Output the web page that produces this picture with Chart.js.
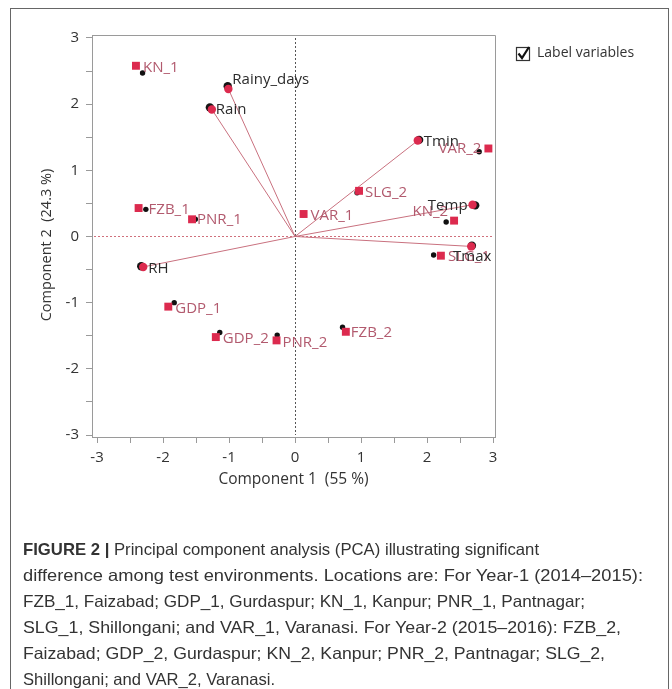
<!DOCTYPE html>
<html>
<head>
<meta charset="utf-8">
<title>PCA biplot of test environments</title>
<script src="https://cdn.jsdelivr.net/npm/chart.js@4.4.1/dist/chart.umd.min.js"></script>
<style>
  html, body { margin: 0; padding: 0; background: #fff; width: 672px; height: 689px; overflow: hidden; }
  #wrap { position: relative; width: 672px; height: 689px; }
  #chart { position: absolute; left: 0; top: 0; }
  #frame { position: absolute; left: 10px; top: 8px; width: 659px; height: 720px;
           border: 1px solid #666; box-sizing: border-box; pointer-events: none; }
  #caption { position: absolute; left: 23px; top: 536px; font-family: "Liberation Sans", Arial, sans-serif;
             font-size: 16.5px; line-height: 26.1px; color: #333; white-space: nowrap; }
  #caption .ln { display: block; }
  #caption .ln span { display: inline-block; transform-origin: 0 50%; }
  #caption b { font-weight: bold; }
</style>
</head>
<body>
<div id="wrap">
  <canvas id="chart" width="672" height="525"></canvas>
  <div id="frame"></div>
  <div id="caption">
    <div class="ln"><span><b>FIGURE 2 |</b> Principal component analysis (PCA) illustrating significant</span></div>
    <div class="ln"><span>difference among test environments. Locations are: For Year-1 (2014–2015):</span></div>
    <div class="ln"><span>FZB_1, Faizabad; GDP_1, Gurdaspur; KN_1, Kanpur; PNR_1, Pantnagar;</span></div>
    <div class="ln"><span>SLG_1, Shillongani; and VAR_1, Varanasi. For Year-2 (2015–2016): FZB_2,</span></div>
    <div class="ln"><span>Faizabad; GDP_2, Gurdaspur; KN_2, Kanpur; PNR_2, Pantnagar; SLG_2,</span></div>
    <div class="ln"><span>Shillongani; and VAR_2, Varanasi.</span></div>
  </div>
</div>
<script>
// Environment (location) scores
const locations = ['KN_1', 'FZB_1', 'PNR_1', 'VAR_1', 'GDP_1', 'GDP_2', 'PNR_2', 'FZB_2', 'SLG_2', 'VAR_2', 'KN_2', 'SLG_1'];
const locPC1 = [-2.41, -2.37, -1.56, 0.13, -1.92, -1.20, -0.28, 0.77, 0.97, 2.93, 2.41, 2.21];
const locPC2 = [2.58, 0.43, 0.26, 0.34, -1.06, -1.52, -1.57, -1.44, 0.69, 1.33, 0.24, -0.29];
// Second (overlaid) set of environment scores
const locPC1b = [-2.31, -2.26, -1.51, 0.12, -1.83, -1.14, -0.27, 0.72, 0.94, 2.79, 2.29, 2.10];
const locPC2b = [2.47, 0.41, 0.26, 0.33, -1.00, -1.45, -1.49, -1.37, 0.66, 1.28, 0.22, -0.28];

// Weather variable loadings
const variables = ['Rainy_days', 'Rain', 'Tmin', 'Temp', 'Tmax', 'RH'];
const varPC1 = [-1.01, -1.26, 1.86, 2.69, 2.67, -2.30];
const varPC2 = [2.23, 1.92, 1.45, 0.48, -0.15, -0.46];
const varPC1b = [-1.02, -1.29, 1.88, 2.73, 2.68, -2.33];
const varPC2b = [2.27, 1.95, 1.46, 0.47, -0.14, -0.45];

// Axis ticks (labelled at whole numbers)
const axisTicks = [-3, -2.5, -2, -1.5, -1, -0.5, 0, 0.5, 1, 1.5, 2, 2.5, 3];
const xTitle = 'Component 1  (55 %)';
const yTitle = 'Component 2  (24.3 %)';
const legendText = 'Label variables';

// Label placement relative to each marker (pixels)
const labelPlacement = {
  KN_1: { dx: 7, dy: 2 }, FZB_1: { dx: 10, dy: 2 }, PNR_1: { dx: 5, dy: 0 }, VAR_1: { dx: 7, dy: 2 },
  GDP_1: { dx: 7, dy: 2 }, GDP_2: { dx: 7, dy: 2 }, PNR_2: { dx: 6, dy: 2 }, FZB_2: { dx: 5, dy: 1 },
  SLG_2: { dx: 6, dy: 2 }, VAR_2: { dx: -7, dy: 0, align: 'right' }, KN_2: { dx: -6, dy: -9, align: 'right' },
  SLG_1: { dx: 7, dy: 1 },
  Rainy_days: { dx: 4, dy: -9 }, Rain: { dx: 4, dy: 0 }, Tmin: { dx: 6, dy: 1 },
  Temp: { dx: -5, dy: 1, align: 'right' }, Tmax: { dx: 1, dy: 10, align: 'center' }, RH: { dx: 5, dy: 2 }
};

const RED = '#dc2a4e';
const LOC_TEXT = '#b25a6e';
const VAR_TEXT = '#2b2b2b';
const RAY = '#c9717f';
const AXIS = '#9a9a9a';
const FONT = '"Open Sans", "Noto Sans", sans-serif';

const pts = (xs, ys) => xs.map((x, i) => ({ x: x, y: ys[i] }));

const rayDatasets = variables.map((name, i) => ({
  type: 'line',
  label: name + ' vector',
  data: [{ x: 0, y: 0 }, { x: varPC1[i], y: varPC2[i] }],
  borderColor: RAY,
  borderWidth: 1,
  pointRadius: 0,
  fill: false,
  order: 6
}));

// Dotted reference lines through the origin, plus the frame of the plot area
const frameAndZeroLines = {
  id: 'frameAndZeroLines',
  beforeDatasetsDraw(chart) {
    const { ctx, chartArea: a, scales: { x, y } } = chart;
    ctx.save();
    ctx.lineWidth = 1;
    ctx.strokeStyle = AXIS;
    ctx.beginPath();
    ctx.moveTo(a.left, a.top + 0.5);
    ctx.lineTo(a.right + 0.5, a.top + 0.5);
    ctx.lineTo(a.right + 0.5, a.bottom);
    ctx.stroke();
    ctx.setLineDash([2, 2]);
    const x0 = Math.round(x.getPixelForValue(0)) + 0.5;
    ctx.strokeStyle = '#555';
    ctx.beginPath();
    ctx.moveTo(x0, a.top + 3);
    ctx.lineTo(x0, a.bottom - 2);
    ctx.stroke();
    const y0 = Math.round(y.getPixelForValue(0)) + 0.5;
    ctx.strokeStyle = '#d0707c';
    ctx.beginPath();
    ctx.moveTo(a.left + 2, y0);
    ctx.lineTo(a.right - 2, y0);
    ctx.stroke();
    ctx.restore();
  }
};

// Point labels for environments and variables
const pointLabels = {
  id: 'pointLabels',
  afterDatasetsDraw(chart) {
    const { ctx, scales: { x, y } } = chart;
    ctx.save();
    ctx.font = '15px ' + FONT;
    ctx.textBaseline = 'middle';
    const put = (name, vx, vy, color) => {
      const p = labelPlacement[name] || { dx: 7, dy: 2 };
      ctx.fillStyle = color;
      ctx.textAlign = p.align || 'left';
      ctx.fillText(name, x.getPixelForValue(vx) + p.dx, y.getPixelForValue(vy) + p.dy);
    };
    locations.forEach((n, i) => put(n, locPC1[i], locPC2[i], LOC_TEXT));
    variables.forEach((n, i) => put(n, varPC1[i], varPC2[i], VAR_TEXT));
    ctx.restore();
  }
};

// Vertical axis title, and the "Label variables" check box at the top right
const extras = {
  id: 'extras',
  afterDraw(chart) {
    const { ctx, chartArea: a } = chart;
    ctx.save();
    ctx.translate(47, (a.top + a.bottom) / 2 + 9);
    ctx.rotate(-Math.PI / 2);
    ctx.fillStyle = '#333';
    ctx.font = '14.5px ' + FONT;
    ctx.textAlign = 'center';
    ctx.textBaseline = 'middle';
    ctx.fillText(yTitle, 0, 0);
    ctx.restore();

    ctx.save();
    ctx.strokeStyle = '#333';
    ctx.lineWidth = 1.2;
    ctx.strokeRect(516.5, 47.5, 13, 13);
    ctx.lineWidth = 2.2;
    ctx.strokeStyle = '#111';
    ctx.beginPath();
    ctx.moveTo(518.5, 53.5);
    ctx.lineTo(522, 58);
    ctx.lineTo(529, 47);
    ctx.stroke();
    ctx.fillStyle = '#333';
    ctx.font = '14px ' + FONT;
    ctx.textBaseline = 'middle';
    ctx.textAlign = 'left';
    ctx.fillText(legendText, 537, 53);
    ctx.restore();
  }
};

new Chart(document.getElementById('chart'), {
  type: 'scatter',
  data: {
    datasets: [
      { label: 'Environments', data: pts(locPC1, locPC2), pointStyle: 'rect', pointRadius: 5.6,
        backgroundColor: RED, borderColor: RED, borderWidth: 0, order: 1 },
      { label: 'Environments (set 2)', data: pts(locPC1b, locPC2b), pointStyle: 'circle', pointRadius: 2.7,
        backgroundColor: '#111', borderColor: '#111', borderWidth: 0, order: 2 },
      { label: 'Variables', data: pts(varPC1, varPC2), pointStyle: 'circle', pointRadius: 4.2,
        backgroundColor: RED, borderColor: RED, borderWidth: 0, order: 3 },
      { label: 'Variables (set 2)', data: pts(varPC1b, varPC2b), pointStyle: 'circle', pointRadius: 4.2,
        backgroundColor: '#151515', borderColor: '#151515', borderWidth: 0, order: 4 },
      ...rayDatasets
    ]
  },
  options: {
    responsive: false,
    animation: false,
    events: [],
    layout: { padding: { left: 0, top: 35, right: 177, bottom: 0 } },
    plugins: { legend: { display: false }, tooltip: { enabled: false } },
    scales: {
      x: {
        type: 'linear', min: -3.076, max: 3.03,
        afterBuildTicks: s => { s.ticks = axisTicks.map(v => ({ value: v })); },
        afterFit: s => { s.height = 88; },
        ticks: { autoSkip: false, maxRotation: 0, padding: 6, color: '#333',
                 font: { family: FONT, size: 15 },
                 callback: v => Number.isInteger(v) ? String(v) : '' },
        grid: { display: true, drawOnChartArea: false, drawTicks: true, tickLength: 6, tickColor: AXIS },
        border: { display: true, color: AXIS },
        title: { display: true, text: xTitle, color: '#333', font: { family: FONT, size: 15.5 },
                 padding: { top: 0, bottom: 36 } }
      },
      y: {
        type: 'linear', min: -3.03, max: 3.045,
        afterBuildTicks: s => { s.ticks = axisTicks.map(v => ({ value: v })); },
        afterFit: s => { s.width = 92; },
        ticks: { autoSkip: false, padding: 7, color: '#333',
                 font: { family: FONT, size: 15 },
                 callback: v => Number.isInteger(v) ? String(v) : '' },
        grid: { display: true, drawOnChartArea: false, drawTicks: true, tickLength: 6, tickColor: AXIS },
        border: { display: true, color: AXIS }
      }
    }
  },
  plugins: [frameAndZeroLines, pointLabels, extras]
});

// Fit each caption line to its printed width
const captionLineWidths = [516, 620, 562, 598, 582, 252];
document.querySelectorAll('#caption .ln span').forEach((el, i) => {
  const w = el.getBoundingClientRect().width;
  el.style.transform = 'scaleX(' + (captionLineWidths[i] / w).toFixed(4) + ')';
});
</script>
</body>
</html>
